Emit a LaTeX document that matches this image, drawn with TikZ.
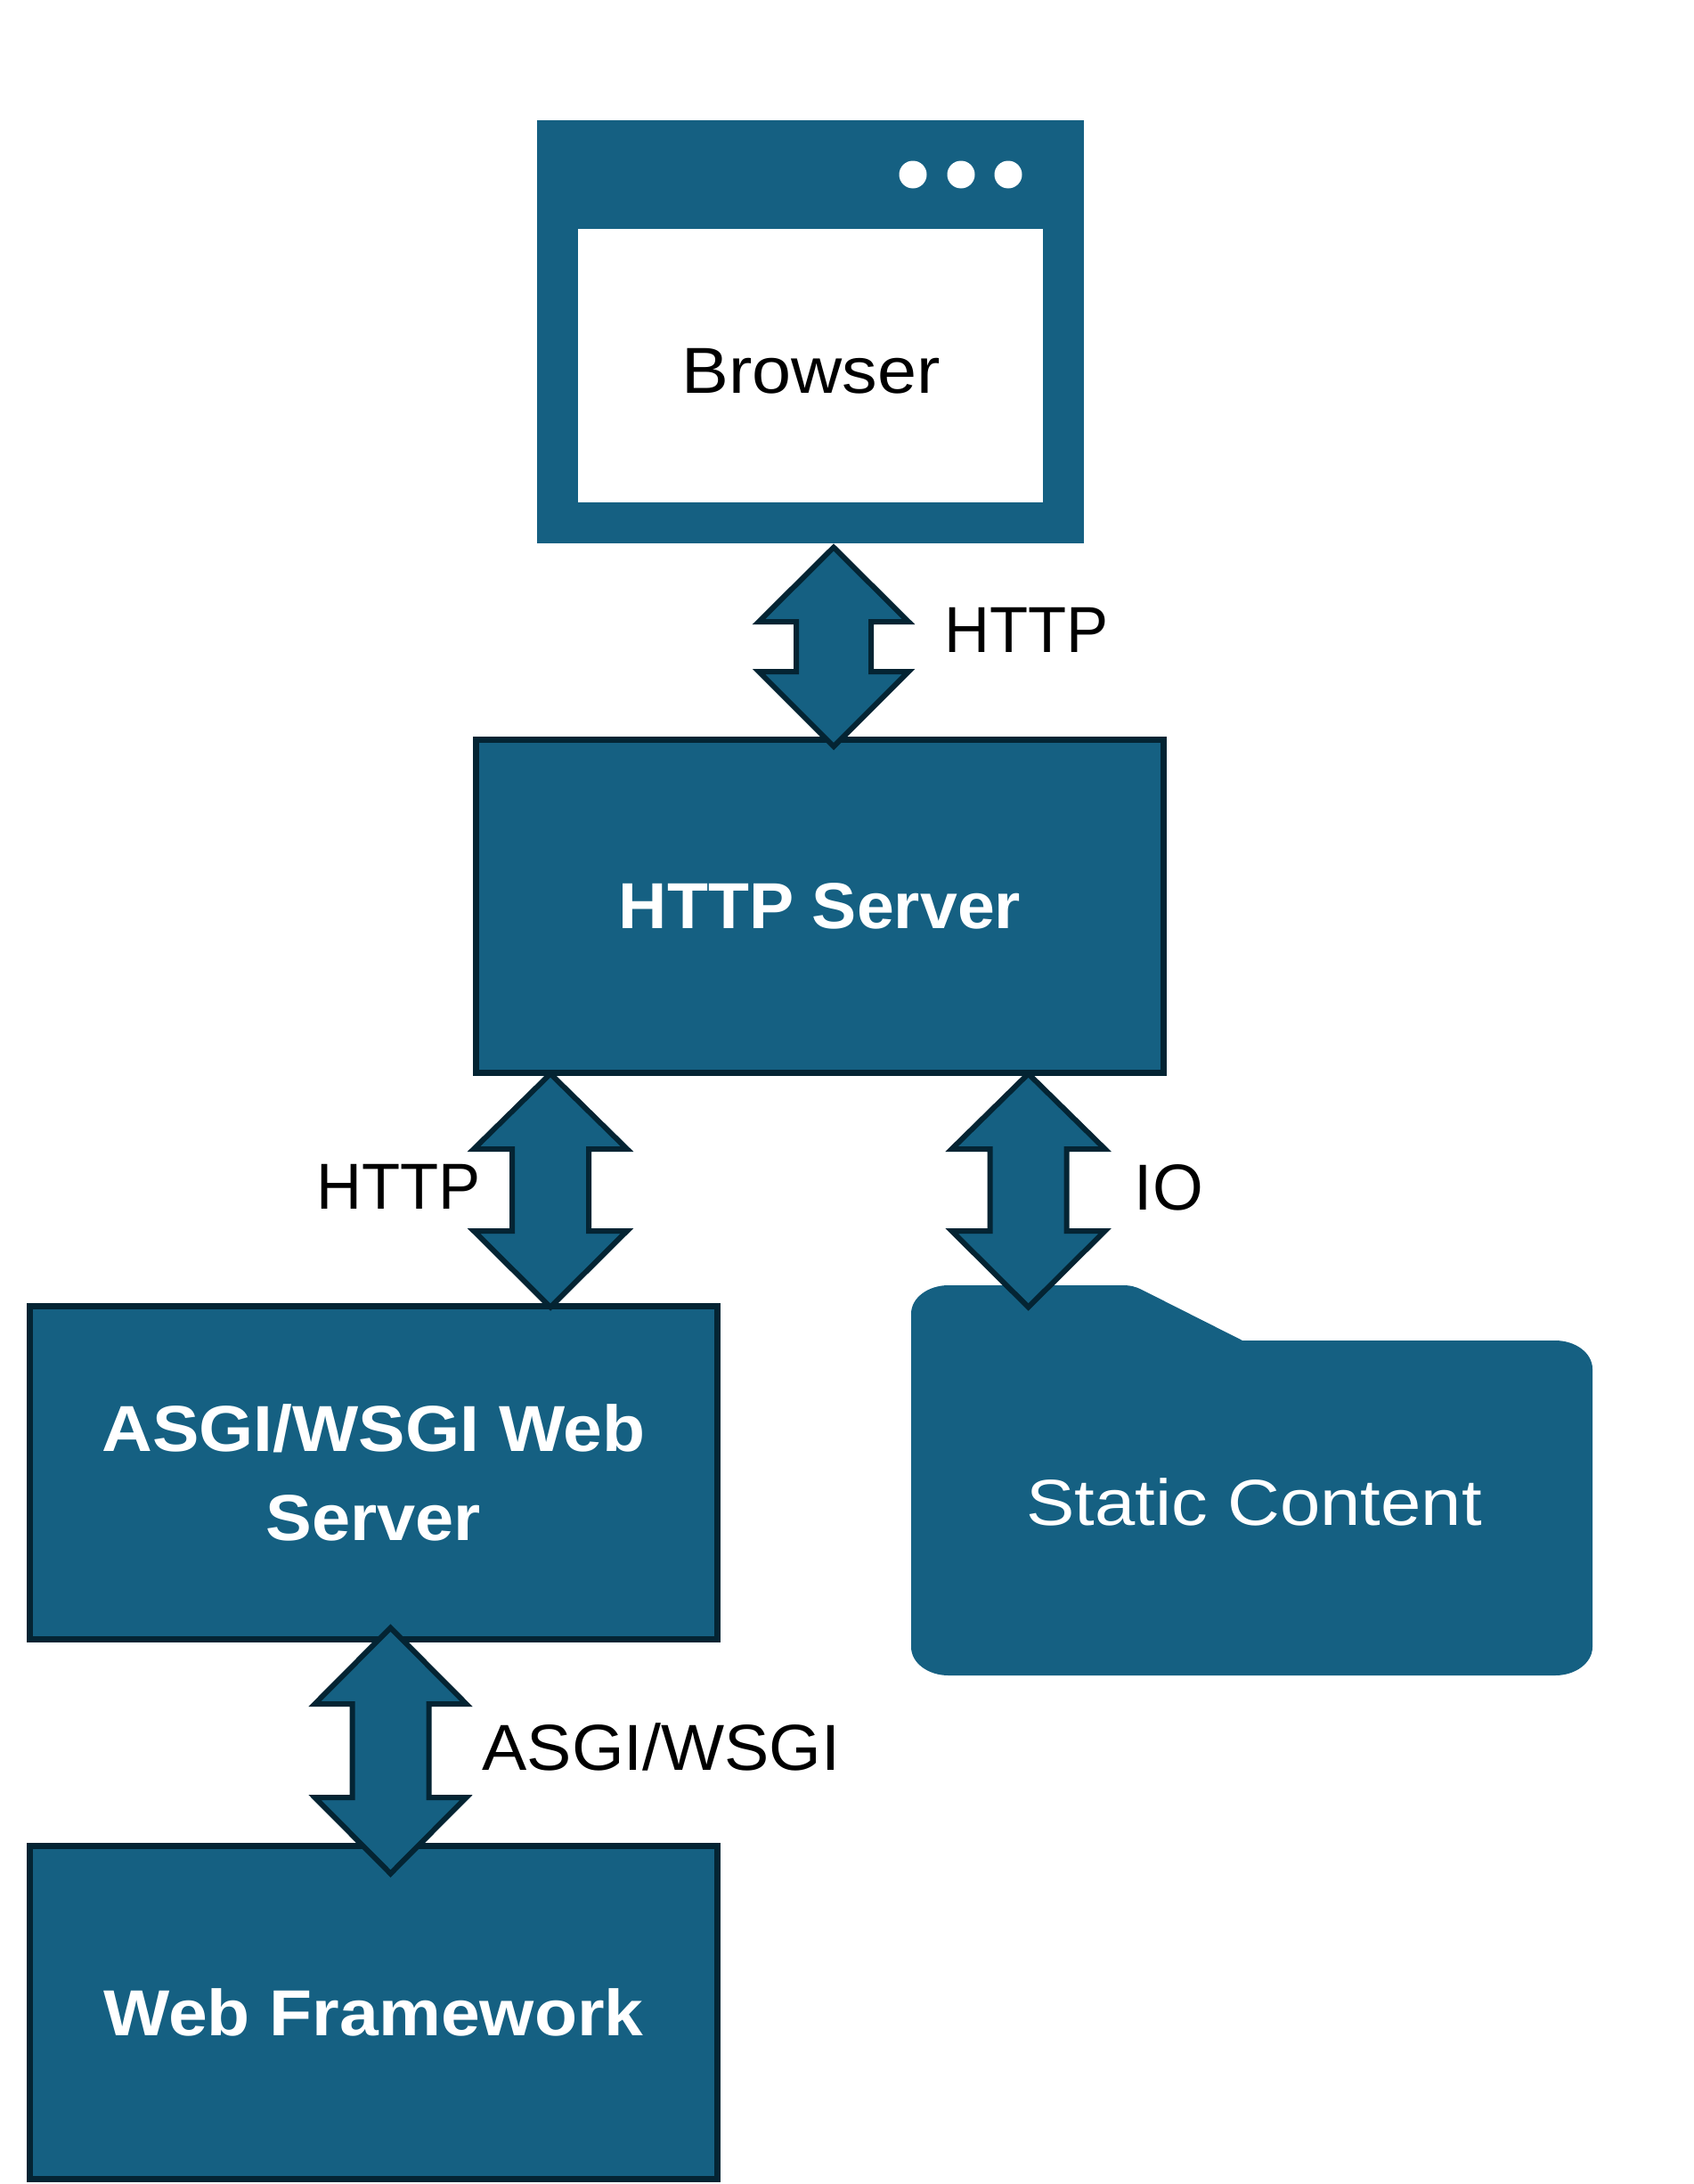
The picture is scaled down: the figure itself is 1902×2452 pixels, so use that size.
\documentclass[tikz,border=0pt]{standalone}
\usepackage{fontspec}
\setmainfont{Liberation Sans}
\definecolor{teal}{HTML}{156082}
\definecolor{edge}{HTML}{042433}
\newcommand{\lbl}{\fontsize{54.75pt}{72.75pt}\selectfont}
\newcommand{\lblb}{\fontsize{54.75pt}{75pt}\selectfont\bfseries}
\newcommand{\st}[2]{{\addfontfeature{FakeStretch=#1}#2}}
% cx, top, bottom, half wing, half shaft, upper wing y, lower wing y
\newcommand{\blockarrow}[7]{%
  \draw[blockedge] (#1,#2) -- (#1+#4,#6) -- (#1+#5,#6) -- (#1+#5,#7) -- (#1+#4,#7)
    -- (#1,#3) -- (#1-#4,#7) -- (#1-#5,#7) -- (#1-#5,#6) -- (#1-#4,#6) -- cycle;}
\tikzset{
  x=0.75pt,y=-0.75pt,
  bluebox/.style={rectangle,draw=edge,fill=teal,line width=4.7pt,inner sep=0pt,outer sep=0pt,
    text=white,font=\lblb,align=center,minimum width=579pt},
  blockedge/.style={draw=edge,fill=teal,line width=4.5pt,miter limit=10},
  plain/.style={inner sep=0pt,outer sep=0pt,text=black,font=\lbl},
}
\begin{document}
\begin{tikzpicture}
\path[use as bounding box,fill=white] (0,0) rectangle (1902,2452);
% Browser window
\node[rectangle,fill=teal,inner sep=0pt,outer sep=0pt,minimum width=460.5pt,minimum height=356.25pt] (browser) at (910,372.5) {};
\node[rectangle,fill=white,inner sep=0pt,outer sep=0pt,minimum width=391.5pt,minimum height=230.25pt] (pane) at (910,410.5) {};
\node[circle,fill=white,inner sep=0pt,outer sep=0pt,minimum size=23.25pt] (dota) at (1025,196) {};
\node[circle,fill=white,inner sep=0pt,outer sep=0pt,minimum size=23.25pt] (dotb) at (1079,196) {};
\node[circle,fill=white,inner sep=0pt,outer sep=0pt,minimum size=23.25pt] (dotc) at (1132,196) {};
\node[plain] (browsertext) at (910.5,416.5) {\st{1.085}{Browser}};
% Boxes
\node[bluebox,minimum height=280.5pt] (httpserver) at (920.5,1017.5) {\st{1.03}{HTTP Server}};
\node[bluebox,minimum height=280.5pt] (asgi) at (419.5,1653.5) {\st{1.077}{ASGI/WSGI Web}\\\st{1.062}{Server}};
\node[bluebox,minimum height=280.5pt] (framework) at (419.5,2259.5) {\st{1.078}{Web Framework}};
% Folder
\path[fill=teal] (1065,1443) -- (1261,1443) .. controls (1270,1443) and (1276,1445) .. (1282,1448)
  -- (1395,1505) -- (1746,1505) .. controls (1769,1505) and (1788,1519) .. (1788,1537)
  -- (1788,1849) .. controls (1788,1867) and (1769,1881) .. (1746,1881)
  -- (1065,1881) .. controls (1042,1881) and (1023,1867) .. (1023,1849)
  -- (1023,1475) .. controls (1023,1457) and (1042,1443) .. (1065,1443) -- cycle;
\node[plain,text=white] (statictext) at (1408,1686) {\st{1.116}{Static Content}};
% Arrows
\blockarrow{936}{614.5}{838}{84}{42}{698}{754}
\blockarrow{618}{1205.5}{1467.5}{86}{43}{1290}{1382}
\blockarrow{1154.6}{1205.5}{1467.5}{86}{43}{1290}{1382}
\blockarrow{438.5}{1827.5}{2103.5}{85}{43}{1913}{2018}
% Labels
\node[plain,anchor=base] (lhttpa) at (1152.5,732) {\st{0.967}{HTTP}};
\node[plain,anchor=base] (lhttpb) at (447.5,1357.5) {\st{0.967}{HTTP}};
\node[plain,anchor=base] (lio) at (1312.5,1358) {IO};
\node[plain,anchor=base] (lasgi) at (742.5,1987.5) {\st{1.032}{ASGI/WSGI}};
\end{tikzpicture}
\end{document}
